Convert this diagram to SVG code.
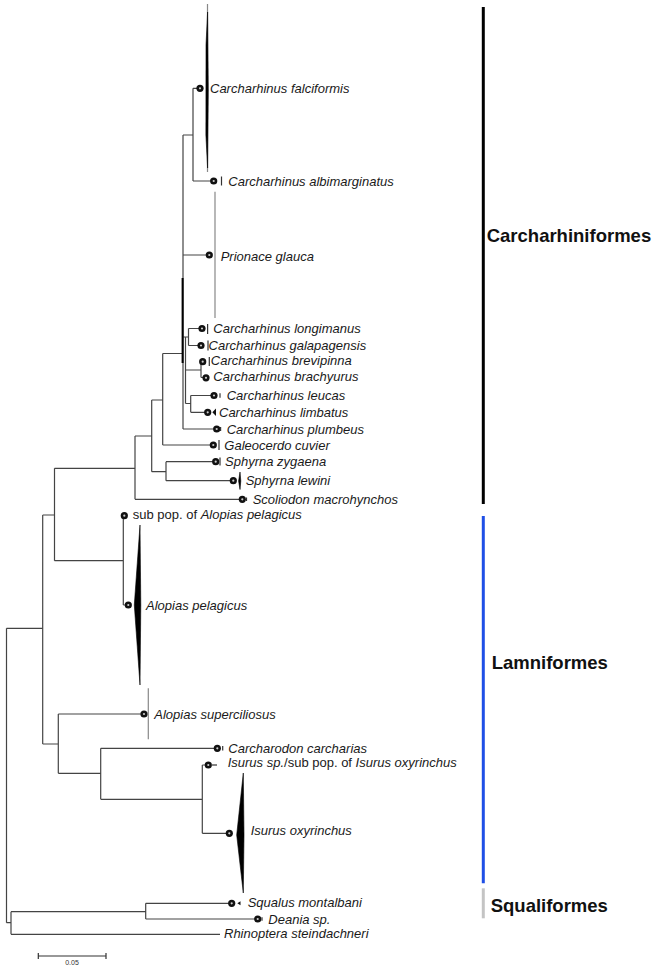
<svg xmlns="http://www.w3.org/2000/svg" xmlns:xlink="http://www.w3.org/1999/xlink" width="658" height="972" viewBox="0 0 658 972">
<style>
.br{stroke:#444;stroke-width:1.2;fill:none}
.tk{stroke:#333;stroke-width:1.2;fill:none}
.bar{stroke:#888;stroke-width:1.2;fill:none}
.wd{fill:#000;stroke:#000;stroke-width:0.6}
.lb{font-family:"Liberation Sans",Arial,sans-serif;font-size:13px;font-style:italic;fill:#1a1a1a}
.up{font-style:normal}
.grp{font-family:"Liberation Sans",Arial,sans-serif;font-size:18.5px;font-weight:bold;fill:#111}
.sc{font-family:"Liberation Sans",Arial,sans-serif;font-size:7px;fill:#333}
</style>
<defs>
<g id="dot"><circle r="3.6" fill="#111"/><circle r="1.1" fill="#ccc"/></g>
</defs>
<rect width="658" height="972" fill="#fff"/>
<g id="connectors">
<path class="br" d="M6.5 628.3V922.7M6.5 628.3H42.7M6.5 922.7H11M11 911.7V934.3M11 911.7H145.7M11 934.3H220M145.7 903.3V919M145.7 903.3H231.7M145.7 919H257.7"/>
<path class="br" d="M42.7 515V744M42.7 515H54.5M42.7 744H58.3M54.5 468.3V560.7M54.5 468.3H135M54.5 560.7H123.3M123.3 515.7V605M123.3 605H128.3M58.3 714V773.3M58.3 714H144M58.3 773.3H100.7M100.7 748.3V799.3M100.7 748.3H217.3M100.7 799.3H202.3M202.3 765V833.3M202.3 765H208.3M202.3 833.3H229.3"/>
<path class="br" d="M135 436V499.3M135 499.3H242.3M135 436H151.7M151.7 400V471.7M151.7 400H162.7M151.7 471.7H166M166 461.7V480.7M166 461.7H215.7M166 480.7H233.3M162.7 353.5V445M162.7 445H213.3M162.7 353.5H183"/>
<path class="br" d="M183 135V429M183 429H216.7M183 255H209.3M183 135H193M193 88.3V181M193 88.3H200M193 181H213.7"/>
<path class="br" d="M185.5 337V403.5M183 337H188.5M188.5 328.5V345.5M188.5 328.5H202M188.5 345.5H201M185.5 370H201M201 361.7V377.5M201 377.5H206M185.5 403.5H190.7M190.7 395.5V412.3M190.7 395.5H214M190.7 412.3H207.7"/>
<path d="M182.6 278V363" stroke="#000" stroke-width="2" fill="none"/>
</g>
<g id="n-falciformis">
<path class="bar" d="M207.5 4V172"/>
<polygon class="wd" points="207.6,12 206,45 205.9,135 207.6,168 208.3,90"/>
<use xlink:href="#dot" x="200" y="88.3"/>
<text class="lb" x="210" y="92.8">Carcharhinus falciformis</text>
</g>
<g id="n-albimarginatus">
<use xlink:href="#dot" x="213.7" y="181"/>
<path class="tk" d="M221.5 176.5V185.5"/>
<text class="lb" x="228.3" y="185.5">Carcharhinus albimarginatus</text>
</g>
<g id="n-prionace">
<path class="bar" d="M215 191.7V318"/>
<use xlink:href="#dot" x="209.3" y="255"/>
<text class="lb" x="220.7" y="261">Prionace glauca</text>
</g>
<g id="n-longimanus">
<use xlink:href="#dot" x="202" y="328.5"/>
<path class="tk" d="M207.6 324V334"/>
<text class="lb" x="213.3" y="333.3">Carcharhinus longimanus</text>
</g>
<g id="n-galapagensis">
<use xlink:href="#dot" x="201" y="345.5"/>
<path class="tk" d="M208 340.5V350.5"/>
<text class="lb" x="208.6" y="349.6">Carcharhinus galapagensis</text>
</g>
<g id="n-brevipinna">
<use xlink:href="#dot" x="202.7" y="361.7"/>
<path class="tk" d="M209.3 357V366"/>
<text class="lb" x="210.8" y="364.6">Carcharhinus brevipinna</text>
</g>
<g id="n-brachyurus">
<use xlink:href="#dot" x="206" y="377.8"/>
<text class="lb" x="213.3" y="380.6">Carcharhinus brachyurus</text>
</g>
<g id="n-leucas">
<use xlink:href="#dot" x="214" y="395.5"/>
<path class="tk" d="M220 393.3V397.7"/>
<text class="lb" x="226.7" y="400.2">Carcharhinus leucas</text>
</g>
<g id="n-limbatus">
<use xlink:href="#dot" x="207.7" y="412.3"/>
<polygon points="212.3,412.3 216,408.6 216,416" fill="#111"/>
<text class="lb" x="219" y="416.7">Carcharhinus limbatus</text>
</g>
<g id="n-plumbeus">
<use xlink:href="#dot" x="216.7" y="429"/>
<path class="tk" d="M220.6 427V431"/>
<text class="lb" x="226.7" y="433.5">Carcharhinus plumbeus</text>
</g>
<g id="n-galeocerdo">
<use xlink:href="#dot" x="213.3" y="445"/>
<path class="tk" d="M219 440V450"/>
<text class="lb" x="224.3" y="449.5">Galeocerdo cuvier</text>
</g>
<g id="n-zygaena">
<use xlink:href="#dot" x="215.7" y="461.7"/>
<path class="tk" d="M220 457.5V465.5"/>
<text class="lb" x="225" y="465.8">Sphyrna zygaena</text>
</g>
<g id="n-lewini">
<use xlink:href="#dot" x="233.3" y="480.7"/>
<polygon class="wd" points="240,472 238.6,481 240,489.5 240.8,481"/>
<text class="lb" x="245.7" y="485">Sphyrna lewini</text>
</g>
<g id="n-scoliodon">
<use xlink:href="#dot" x="242.3" y="499.3"/>
<path class="tk" d="M246.5 497.5V501"/>
<text class="lb" x="252.7" y="503.8">Scoliodon macrohynchos</text>
</g>
<g id="n-subpop-pelagicus">
<use xlink:href="#dot" x="124.3" y="515.7"/>
<text class="lb" x="132.7" y="518.5"><tspan class="up">sub pop. of </tspan>Alopias pelagicus</text>
</g>
<g id="n-pelagicus">
<polygon class="wd" points="140,525 134.3,605 140,685 140.8,605"/>
<use xlink:href="#dot" x="128.3" y="605"/>
<text class="lb" x="146" y="609.5">Alopias pelagicus</text>
</g>
<g id="n-superciliosus">
<path class="bar" d="M148.3 688.3V739.3"/>
<use xlink:href="#dot" x="144" y="714"/>
<text class="lb" x="154.3" y="718.5">Alopias superciliosus</text>
</g>
<g id="n-carcharodon">
<use xlink:href="#dot" x="217.3" y="748.3"/>
<path class="tk" d="M222.7 746V750.6"/>
<text class="lb" x="228.3" y="752.8">Carcharodon carcharias</text>
</g>
<g id="n-isurus-sp">
<use xlink:href="#dot" x="208.3" y="765"/>
<path class="tk" d="M212 765H217"/>
<text class="lb" x="227.7" y="767.3">Isurus sp.<tspan class="up">/sub pop. of </tspan>Isurus oxyrinchus</text>
</g>
<g id="n-oxyrinchus">
<polygon class="wd" points="243.3,773 236.7,835 243.3,893 244,835"/>
<use xlink:href="#dot" x="229.3" y="833.3"/>
<text class="lb" x="250.7" y="835.3">Isurus oxyrinchus</text>
</g>
<g id="n-squalus">
<use xlink:href="#dot" x="231.7" y="903.3"/>
<polygon points="237.3,903.3 240.5,901.3 240.5,905.3" fill="#111"/>
<text class="lb" x="247.7" y="907.3">Squalus montalbani</text>
</g>
<g id="n-deania">
<use xlink:href="#dot" x="257.7" y="919"/>
<path class="tk" d="M262 917.3V920.7"/>
<text class="lb" x="268.3" y="923.5">Deania sp.</text>
</g>
<g id="n-rhinoptera">
<text class="lb" x="224" y="937.8">Rhinoptera steindachneri</text>
</g>
<g id="scale">
<path class="tk" d="M38.3 956H106M38.3 953V959M106 953V959"/>
<text class="sc" x="72" y="965" text-anchor="middle">0.05</text>
</g>
<g id="g-carcharhiniformes">
<path d="M483.3 7V504" stroke="#000" stroke-width="3"/>
<text class="grp" x="486.7" y="241.5">Carcharhiniformes</text>
</g>
<g id="g-lamniformes">
<path d="M483.3 516V883.3" stroke="#1f4fe6" stroke-width="3"/>
<text class="grp" x="491.7" y="669">Lamniformes</text>
</g>
<g id="g-squaliformes">
<path d="M483.3 888.3V918.3" stroke="#c4c4c4" stroke-width="3"/>
<text class="grp" x="490.7" y="911.5">Squaliformes</text>
</g>
</svg>
